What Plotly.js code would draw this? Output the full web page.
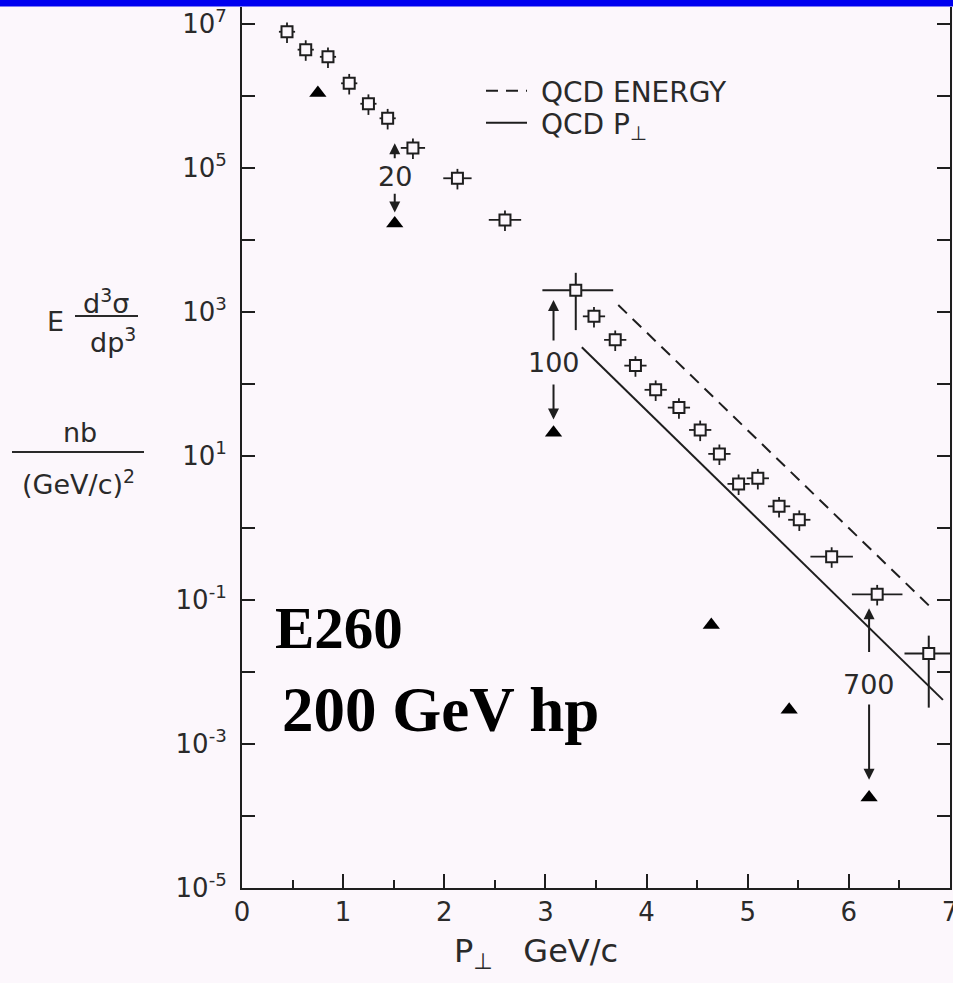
<!DOCTYPE html>
<html>
<head>
<meta charset="utf-8">
<script src="https://cdn.plot.ly/plotly-3.0.1.min.js"></script>
<style>
  html, body { margin: 0; padding: 0; background: #fcf7fc; }
  #chart { width: 953px; height: 983px; }
</style>
</head>
<body>
<div id="chart"></div>
<script>
// ---------- data ----------
// open squares: invariant cross section vs pT
const pt = [0.445, 0.63, 0.85, 1.06, 1.25, 1.44, 1.69, 2.13, 2.60,
            3.48, 3.69, 3.89, 4.09, 4.32, 4.53, 4.72, 4.91, 5.10, 5.31, 5.51, 5.83, 6.28];
const sigma = [7.8e6, 4.4e6, 3.5e6, 1.5e6, 7.8e5, 4.9e5, 1.9e5, 7.2e4, 1.9e4,
               870, 410, 180, 83, 47, 23, 10.7, 4.1, 4.9, 2.0, 1.3, 0.40, 0.12];
const ptErr = [0.08, 0.08, 0.08, 0.08, 0.08, 0.08, 0.12, 0.14, 0.16,
               0.11, 0.11, 0.11, 0.11, 0.11, 0.11, 0.11, 0.11, 0.11, 0.11, 0.11, 0.21, 0.25];

// wide-bin points with large error crosses
const widePt = [3.30, 6.79];
const wideSigma = [2.0e3, 0.018];
const widePtErrMinus = [0.33, 0.24];
const widePtErrPlus = [0.37, 0.25];
const wideSigmaErrPlus = [1.5e3, 0.014];
const wideSigmaErrMinus = [1.44e3, 0.0148];

// filled triangles
const triPt = [0.75, 1.51, 3.08, 4.64, 5.41, 6.20];
const triSigma = [1.1e6, 1.7e4, 21, 0.045, 0.0030, 1.8e-4];

// QCD curves
const qcdEnergyPt = [3.72, 6.81];
const qcdEnergySigma = [1250, 0.079];
const qcdPtPt = [3.36, 6.93];
const qcdPtSigma = [324, 0.0041];

// ratio markers (arrow end points and label level)
const ratioText = ['20', '100', '700'];
const ratioPt = [1.51, 3.08, 6.20];
const ratioUpHead = [2.2e5, 1470, 0.077];
const ratioUpTail = [1.3e5, 383, 0.018];
const ratioLabel = [7.7e4, 202, 0.0066];
const ratioDownTail = [4.6e4, 103, 0.0037];
const ratioDownHead = [2.4e4, 32, 3.2e-4];

// axis ticks
const yTickVals = [1e-5, 1e-4, 1e-3, 1e-2, 1e-1, 1, 10, 100, 1e3, 1e4, 1e5, 1e6, 1e7];
const yTickText = ['10<sup>-5</sup>', '', '10<sup>-3</sup>', '', '10<sup>-1</sup>', '', '10<sup>1</sup>', '',
                   '10<sup>3</sup>', '', '10<sup>5</sup>', '', '10<sup>7</sup>'];
const xTickVals = [0, 1, 2, 3, 4, 5, 6, 7];

// ---------- layout helpers ----------
const BG = '#fcf7fc';
const INK = '#1e1e1e';
const TXT = '#2a2a2a';
const L = 242, R = 950, T = 7, B = 888;
const PX = p => (p - L) / (R - L);
const PY = p => (B - p) / (B - T);
const lg = Math.log10;
const NB = '\u00a0';

const traces = [
  {
    x: qcdEnergyPt, y: qcdEnergySigma, mode: 'lines', name: NB + 'QCD ENERGY', legend: 'legend',
    line: { color: INK, width: 2, dash: '12px,8px' }, showlegend: true
  },
  {
    x: qcdPtPt, y: qcdPtSigma, mode: 'lines', name: NB + 'QCD P<sub>⊥</sub>', legend: 'legend2',
    line: { color: INK, width: 2 }, showlegend: true
  },
  {
    x: pt, y: sigma, mode: 'markers', showlegend: false,
    marker: { symbol: 'square', size: 11, color: BG, line: { color: INK, width: 2 } },
    error_x: { type: 'data', array: ptErr, color: INK, thickness: 1.8, width: 0 },
    error_y: { type: 'percent', value: 35, valueminus: 30, color: INK, thickness: 1.8, width: 0 }
  },
  {
    x: widePt, y: wideSigma, mode: 'markers', showlegend: false,
    marker: { symbol: 'square', size: 11, color: BG, line: { color: INK, width: 2 } },
    error_x: { type: 'data', symmetric: false, array: widePtErrPlus, arrayminus: widePtErrMinus,
               color: INK, thickness: 2, width: 0 },
    error_y: { type: 'data', symmetric: false, array: wideSigmaErrPlus, arrayminus: wideSigmaErrMinus,
               color: INK, thickness: 2, width: 0 }
  },
  {
    x: triPt, y: triSigma, mode: 'markers', showlegend: false,
    marker: { symbol: 'triangle-up', size: 15, color: '#000' }
  }
];

const ann = [];
const arrowBase = { xref: 'x', yref: 'y', axref: 'x', ayref: 'y', text: '', showarrow: true,
                    arrowhead: 2, arrowsize: 1.1, arrowwidth: 2, arrowcolor: INK, standoff: 0, startstandoff: 0 };
ratioText.forEach((t, i) => {
  ann.push(Object.assign({}, arrowBase, { x: ratioPt[i], y: lg(ratioUpHead[i]), ax: ratioPt[i], ay: lg(ratioUpTail[i]) }));
  ann.push(Object.assign({}, arrowBase, { x: ratioPt[i], y: lg(ratioDownHead[i]), ax: ratioPt[i], ay: lg(ratioDownTail[i]) }));
  ann.push({ xref: 'x', yref: 'y', x: ratioPt[i], y: lg(ratioLabel[i]), text: t, showarrow: false,
             font: { family: 'DejaVu Sans', size: 27, color: TXT } });
});

const titleFont = { family: 'DejaVu Sans', size: 27, color: TXT };
function pann(text, x, y, font, xanchor) {
  ann.push({ xref: 'paper', yref: 'paper', x: PX(x), y: PY(y), text: text, showarrow: false,
             xanchor: xanchor || 'center', yanchor: 'middle', font: font });
}
pann('E', 55, 322, titleFont);
pann('d<sup>3</sup>σ', 106, 302, titleFont);
pann('dp<sup>3</sup>', 113, 340, titleFont);
pann('nb', 80, 432, titleFont);
pann('(GeV/c)<sup>2</sup>', 78, 482, titleFont);
pann('P<sub>⊥</sub>' + NB + NB + NB + 'GeV/c', 452, 953, { family: 'DejaVu Sans', size: 32, color: TXT }, 'left');
pann('<b>E260</b>', 273, 628, { family: 'Liberation Serif', size: 59, color: '#000' }, 'left');
pann('<b>200 GeV hp</b>', 280, 710, { family: 'Liberation Serif', size: 63, color: '#000' }, 'left');

const shapes = [
  { type: 'rect', xref: 'paper', yref: 'paper', x0: -0.5, x1: 1.5, y0: PY(6.5), y1: PY(-20),
    fillcolor: '#0000f0', line: { width: 0 }, layer: 'above' },
  { type: 'line', xref: 'paper', yref: 'paper', x0: PX(75), x1: PX(138), y0: PY(316), y1: PY(316),
    line: { color: TXT, width: 2 } },
  { type: 'line', xref: 'paper', yref: 'paper', x0: PX(12), x1: PX(144), y0: PY(452), y1: PY(452),
    line: { color: TXT, width: 2 } }
];

const legendCommon = { xanchor: 'left', yanchor: 'middle', bgcolor: 'rgba(0,0,0,0)', borderwidth: 0,
                       font: { family: 'DejaVu Sans', size: 28, color: TXT }, itemwidth: 41 };

const layout = {
  width: 953, height: 983,
  margin: { l: L, r: 953 - R, t: T, b: 983 - B },
  paper_bgcolor: BG, plot_bgcolor: BG,
  showlegend: true,
  legend: Object.assign({ x: PX(481), y: PY(91) }, legendCommon),
  legend2: Object.assign({ x: PX(481), y: PY(123) }, legendCommon),
  xaxis: {
    range: [0, 7], tickvals: xTickVals, ticks: 'inside', ticklen: 14, tickwidth: 2, tickcolor: INK,
    minor: { dtick: 0.5, ticks: 'inside', ticklen: 8, tickwidth: 2, tickcolor: INK },
    showline: true, linecolor: INK, linewidth: 2, showgrid: false, zeroline: false,
    tickfont: { family: 'DejaVu Sans', size: 26, color: TXT }, ticklabelstandoff: 0,
    ticklabeloverflow: 'allow'
  },
  yaxis: {
    type: 'log', range: [-5, 7.236], tickvals: yTickVals, ticktext: yTickText,
    ticks: 'inside', ticklen: 13, tickwidth: 2, tickcolor: INK,
    showline: true, linecolor: INK, linewidth: 2, mirror: 'ticks', showgrid: false, zeroline: false,
    tickfont: { family: 'DejaVu Sans', size: 26, color: TXT }, ticklabelstandoff: 8
  },
  annotations: ann,
  shapes: shapes
};

Plotly.newPlot('chart', traces, layout, { displayModeBar: false, staticPlot: true });
</script>
</body>
</html>
